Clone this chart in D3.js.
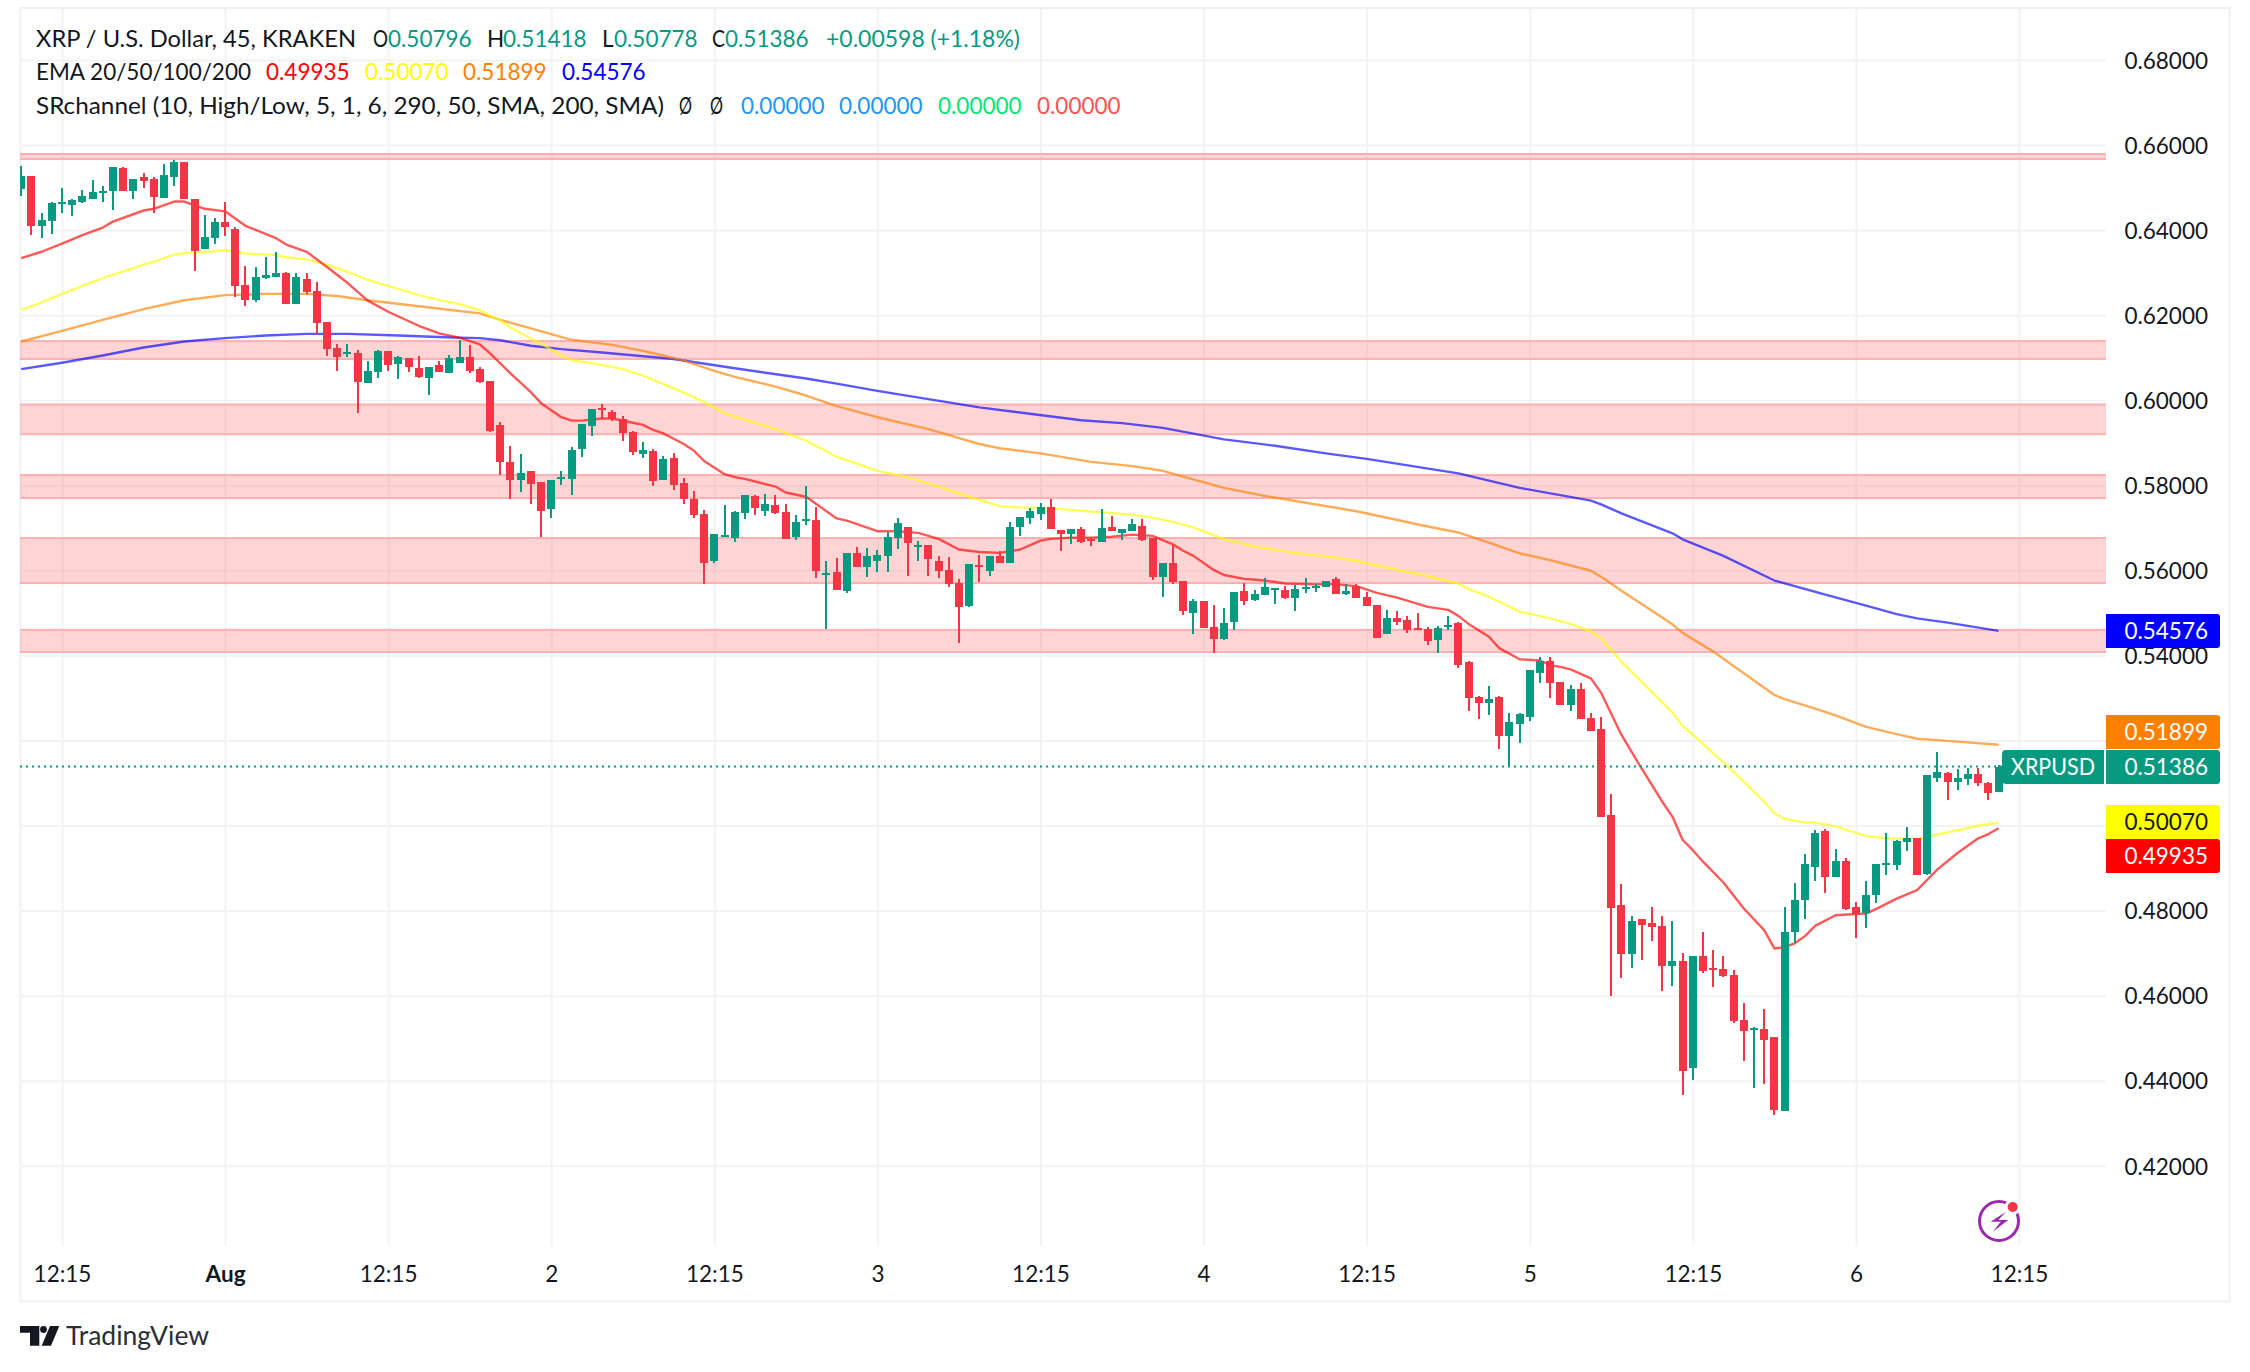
<!DOCTYPE html>
<html>
<head>
<meta charset="utf-8">
<title>XRP / U.S. Dollar</title>
<script src="https://d3js.org/d3.v7.min.js"></script>
<style>
  html, body { margin: 0; background: #fff; }
  svg { display: block; }
  text { font-family: Lato, "Noto Sans", sans-serif; font-size: 22.5px; fill: #131722; }
  .grid line { stroke: #f2f3f5; stroke-width: 2; }
  .grid .domain { display: none; }
</style>
</head>
<body>
<svg id="chart" width="2250" height="1372"></svg>
<script>
// bar 0 is the first 12:15 gridline, bars run from -4 to 190
var firstBar = -4;

var opens = [
  .6497,.6527,.6410,.6421,.6462,.6459,.6466,.6473,.6486,.6492,
  .6546,.6492,.6525,.6520,.6475,.6525,.6560,.6473,.6355,.6381,
  .6419,.6402,.6271,.6236,.6287,.6290,.6299,.6226,.6285,.6257,
  .6184,.6123,.6109,.6111,.6040,.6066,.6116,.6085,.6099,.6076,
  .6052,.6083,.6064,.6087,.6101,.6073,.6045,.5942,.5855,.5812,
  .5833,.5808,.5744,.5815,.5815,.5885,.5939,.5982,.5972,.5956,
  .5925,.5873,.5881,.5812,.5864,.5805,.5768,.5732,.5622,.5678,
  .5676,.5735,.5775,.5739,.5754,.5737,.5678,.5716,.5718,.5589,
  .5596,.5551,.5641,.5608,.5622,.5634,.5676,.5702,.5656,.5659,
  .5622,.5601,.5570,.5516,.5612,.5598,.5634,.5617,.5702,.5723,
  .5732,.5749,.5695,.5685,.5697,.5674,.5667,.5702,.5688,.5692,
  .5704,.5676,.5584,.5617,.5575,.5500,.5528,.5467,.5438,.5478,
  .5551,.5530,.5542,.5554,.5554,.5535,.5556,.5560,.5561,.5580,
  .5544,.5563,.5537,.5518,.5450,.5488,.5483,.5464,.5462,.5436,
  .5467,.5476,.5384,.5302,.5288,.5302,.5210,.5239,.5255,.5358,
  .5387,.5337,.5283,.5321,.5253,.5227,.5025,.4813,.4698,.4780,
  .4771,.4764,.4670,.4681,.4430,.4693,.4665,.4662,.4648,.4543,
  .4519,.4521,.4503,.4329,.4749,.4825,.4902,.4987,.4879,.4916,
  .4808,.4794,.4836,.4907,.4907,.4962,.4970,.4886,.5112,.5123,
  .5102,.5109,.5121,.5100,.50796
];
var highs = [
  .6551,.6527,.6439,.6466,.6499,.6473,.6494,.6518,.6504,.6548,
  .6548,.6520,.6534,.6525,.6555,.6565,.6560,.6473,.6435,.6428,
  .6466,.6407,.6315,.6313,.6337,.6348,.6301,.6299,.6299,.6278,
  .6184,.6132,.6132,.6118,.6092,.6118,.6116,.6104,.6099,.6104,
  .6078,.6092,.6106,.6142,.6130,.6078,.6045,.5949,.5892,.5873,
  .5833,.5808,.5812,.5833,.5890,.5944,.5979,.5991,.5977,.5963,
  .5928,.5902,.5885,.5869,.5876,.5817,.5786,.5742,.5685,.5754,
  .5739,.5777,.5777,.5779,.5777,.5756,.5730,.5798,.5749,.5622,
  .5629,.5641,.5655,.5652,.5648,.5690,.5723,.5702,.5669,.5659,
  .5634,.5631,.5580,.5615,.5636,.5634,.5645,.5714,.5725,.5746,
  .5758,.5768,.5695,.5697,.5702,.5678,.5744,.5728,.5697,.5721,
  .5721,.5676,.5617,.5659,.5575,.5533,.5528,.5518,.5511,.5549,
  .5570,.5554,.5582,.5558,.5563,.5565,.5582,.5568,.5575,.5584,
  .5568,.5568,.5549,.5518,.5507,.5504,.5493,.5500,.5467,.5469,
  .5493,.5478,.5387,.5304,.5328,.5304,.5264,.5264,.5366,.5396,
  .5396,.5337,.5330,.5335,.5264,.5255,.5074,.4862,.4787,.4780,
  .4808,.4787,.4775,.4700,.4693,.4749,.4707,.4693,.4660,.4582,
  .4526,.4568,.4503,.4808,.4865,.4933,.4989,.4992,.4945,.4923,
  .4820,.4869,.4909,.4982,.4966,.4996,.4970,.5119,.5173,.5126,
  .5133,.5135,.5135,.5102,.51418
];
var lows = [
  .6479,.6388,.6382,.6391,.6440,.6433,.6464,.6473,.6466,.6447,
  .6492,.6473,.6499,.6440,.6475,.6504,.6473,.6304,.6355,.6367,
  .6386,.6243,.6221,.6231,.6285,.6290,.6226,.6226,.6250,.6156,
  .6104,.6069,.6101,.5970,.6040,.6052,.6069,.6050,.6066,.6052,
  .6012,.6066,.6064,.6087,.6064,.6040,.5925,.5824,.5768,.5784,
  .5756,.5678,.5723,.5801,.5777,.5866,.5916,.5956,.5951,.5904,
  .5871,.5864,.5798,.5812,.5789,.5756,.5723,.5568,.5617,.5678,
  .5667,.5721,.5730,.5728,.5732,.5674,.5671,.5706,.5582,.5462,
  .5554,.5547,.5608,.5584,.5596,.5596,.5650,.5587,.5622,.5587,
  .5582,.5561,.5429,.5514,.5572,.5587,.5617,.5617,.5681,.5709,
  .5718,.5697,.5645,.5662,.5664,.5657,.5667,.5692,.5671,.5692,
  .5669,.5577,.5537,.5568,.5495,.5450,.5464,.5406,.5436,.5460,
  .5518,.5528,.5542,.5521,.5533,.5504,.5547,.5549,.5561,.5544,
  .5542,.5535,.5516,.5441,.5450,.5471,.5453,.5460,.5424,.5406,
  .5460,.5370,.5269,.5250,.5260,.5180,.5138,.5194,.5246,.5335,
  .5300,.5283,.5269,.5250,.5222,.5020,.4599,.4641,.4665,.4684,
  .4728,.4611,.4623,.4366,.4401,.4653,.4620,.4644,.4535,.4446,
  .4383,.4392,.4319,.4329,.4724,.4780,.4869,.4841,.4879,.4801,
  .4735,.4759,.4818,.4883,.4895,.4940,.4883,.4883,.5102,.5060,
  .5083,.5095,.5093,.5060,.50778
];
var closes = [
  .6527,.6410,.6424,.6464,.6466,.6471,.6480,.6490,.6492,.6548,
  .6492,.6520,.6516,.6478,.6529,.6560,.6473,.6351,.6384,.6419,
  .6407,.6268,.6236,.6290,.6294,.6299,.6226,.6290,.6254,.6181,
  .6120,.6101,.6113,.6043,.6069,.6116,.6083,.6101,.6078,.6054,
  .6078,.6066,.6099,.6101,.6069,.6043,.5928,.5855,.5812,.5829,
  .5803,.5739,.5812,.5819,.5883,.5944,.5979,.5977,.5956,.5923,
  .5878,.5883,.5810,.5862,.5801,.5768,.5730,.5617,.5685,.5683,
  .5737,.5777,.5746,.5756,.5735,.5674,.5714,.5721,.5598,.5594,
  .5554,.5641,.5608,.5634,.5636,.5678,.5711,.5664,.5659,.5627,
  .5598,.5568,.5514,.5615,.5608,.5634,.5617,.5702,.5725,.5739,
  .5749,.5697,.5685,.5697,.5667,.5669,.5699,.5692,.5697,.5709,
  .5671,.5584,.5617,.5572,.5504,.5528,.5464,.5438,.5476,.5549,
  .5528,.5544,.5561,.5558,.5535,.5556,.5561,.5563,.5575,.5544,
  .5551,.5535,.5516,.5441,.5488,.5478,.5460,.5460,.5434,.5464,
  .5471,.5377,.5300,.5288,.5297,.5210,.5243,.5262,.5366,.5387,
  .5335,.5283,.5321,.5250,.5222,.5020,.4806,.4698,.4775,.4766,
  .4761,.4670,.4681,.4423,.4693,.4658,.4660,.4646,.4540,.4517,
  .4524,.4496,.4331,.4749,.4825,.4909,.4982,.4879,.4916,.4804,
  .4792,.4836,.4909,.4912,.4963,.4970,.4883,.5119,.5126,.5102,
  .5112,.5121,.5100,.5076,.51386
];

// EMAs, read at the bars where the drawn line bends
var ema20Bars = [-4,-2,0,2,4,5,8,9,11,12,14,16,18,21,22,24,26,28,30,32,35,37,39,41,42,44,46,47,49,50,51,53,54,56,57,58,59,61,62,63,65,66,67,70,71,73,76,77,80,82,84,86,88,90,92,93,94,96,97,99,101,103,105,107,108,109,110,111,113,114,116,118,120,123,125,127,129,131,134,136,137,138,140,141,143,145,146,147,148,150,151,153,155,157,158,159,160,161,163,165,167,168,169,170,171,172,174,176,177,178,180,182,184,186,188,189,190];
var ema20 = [.6334,.6349,.6368,.6388,.6406,.6420,.6446,.6450,.6467,.6467,.6450,.6444,.6410,.6381,.6366,.6349,.6313,.6276,.6234,.6208,.6175,.6157,.6147,.6131,.6110,.6063,.6019,.5993,.5960,.5952,.5952,.5957,.5957,.5947,.5942,.5930,.5922,.5897,.5881,.5857,.5826,.5819,.5815,.5797,.5783,.5773,.5722,.5717,.5692,.5692,.5688,.5674,.5649,.5643,.5641,.5645,.5649,.5670,.5674,.5677,.5677,.5679,.5684,.5681,.5671,.5661,.5646,.5634,.5601,.5589,.5580,.5576,.5569,.5567,.5567,.5563,.5547,.5536,.5514,.5507,.5493,.5474,.5444,.5417,.5391,.5388,.5377,.5373,.5367,.5346,.5312,.5213,.5133,.5056,.5021,.4966,.4942,.4915,.4866,.4805,.4754,.4711,.4714,.4723,.4740,.4764,.4789,.4792,.4793,.4804,.4828,.4848,.4897,.4936,.4970,.4980,.49935];

var ema50Bars = [-4,-2,0,2,4,8,9,11,12,14,16,18,21,22,24,26,28,30,32,35,37,39,41,42,43,44,46,47,49,50,53,55,57,59,61,63,65,67,70,73,76,78,80,83,86,89,92,94,97,101,105,107,109,111,113,114,117,121,125,127,130,133,137,138,140,143,146,148,150,151,153,158,159,160,164,167,168,169,171,172,174,177,179,182,183,186,188,189,190];
var ema50 = [.6212,.6230,.6250,.6269,.6287,.6319,.6326,.6342,.6346,.6348,.6353,.6345,.6341,.6336,.6331,.6318,.6302,.6283,.6269,.6247,.6236,.6226,.6212,.6199,.6188,.6171,.6145,.6133,.6105,.6094,.6083,.6073,.6058,.6038,.6018,.5996,.5969,.5954,.5932,.5905,.5867,.5851,.5834,.5819,.5797,.5773,.5751,.5748,.5746,.5738,.5731,.5724,.5714,.5701,.5683,.5673,.5656,.5641,.5630,.5622,.5606,.5592,.5569,.5556,.5538,.5503,.5487,.5474,.5457,.5440,.5385,.5266,.5234,.5214,.5126,.5056,.5029,.5016,.5007,.5007,.4998,.4975,.4970,.4968,.4974,.4989,.5000,.5003,.50070];

var ema100Bars = [-4,0,4,8,12,16,20,24,27,30,35,41,43,46,50,54,57,59,61,64,66,70,73,76,80,85,90,92,96,101,105,108,111,114,118,121,127,134,137,140,143,146,150,151,153,158,159,162,168,169,172,174,177,180,182,185,190];
var ema100 = [.6138,.6163,.6189,.6214,.6235,.6247,.6250,.6250,.6245,.6235,.6221,.6204,.6189,.6169,.6142,.6130,.6116,.6105,.6093,.6069,.6055,.6032,.6011,.5986,.5960,.5932,.5897,.5887,.5875,.5855,.5845,.5834,.5814,.5794,.5775,.5763,.5739,.5703,.5689,.5665,.5640,.5624,.5599,.5585,.5552,.5473,.5453,.5409,.5307,.5297,.5275,.5259,.5232,.5215,.5204,.5199,.51899];

var ema200Bars = [-4,0,4,8,12,16,20,24,28,33,39,41,43,46,49,53,60,66,73,76,80,90,100,104,108,114,119,124,128,137,140,143,150,151,153,158,159,163,168,173,177,180,182,185,190];
var ema200 = [.6073,.6088,.6105,.6124,.6138,.6146,.6152,.6156,.6156,.6152,.6147,.6146,.6141,.6128,.6120,.6112,.6097,.6075,.6051,.6039,.6022,.5983,.5953,.5946,.5935,.5908,.5893,.5875,.5862,.5828,.5811,.5794,.5764,.5755,.5734,.5687,.5673,.5634,.5576,.5543,.5517,.5497,.5487,.5477,.54576];

// SRchannel zones, top and bottom price
var zoneTops = [.6579,.6139,.5990,.5824,.5676,.5460];
var zoneBottoms = [.6567,.6097,.5920,.5770,.5570,.5408];

var gridPrices = [.42,.44,.46,.48,.50,.52,.54,.56,.58,.60,.62,.64,.66,.68];
var priceLabels = [.42,.44,.46,.48,.54,.56,.58,.60,.62,.64,.66,.68];
var timeBars = [0,16,32,48,64,80,96,112,128,144,160,176,192];
var timeLabels = ["12:15","Aug","12:15","2","12:15","3","12:15","4","12:15","5","12:15","6","12:15"];

var lastClose = 0.51386;
var priceTags = [
  {text: "0.54576", center: 631, fill: "#0000ff", color: "#fff"},
  {text: "0.51899", center: 732, fill: "#ff8000", color: "#fff"},
  {text: "0.51386", center: 767, fill: "#089981", color: "#fff"},
  {text: "0.50070", center: 822, fill: "#ffff00", color: "#131722"},
  {text: "0.49935", center: 856, fill: "#ff0000", color: "#fff"}
];

var UP = "#089981", DOWN = "#f23645";
var left = 20, right = 2106, bottom = 1246;
var textDrop = 2.5; // Lato sits a little high on a middle baseline

var svg = d3.select("#chart");

var x = d3.scaleLinear().domain([0, 192]).range([62, 2019]);
var y = d3.scaleLinear().domain([0.66, 0.42]).range([145, 1165.8]);

svg.append("defs").append("clipPath").attr("id", "plot")
  .append("rect").attr("x", left).attr("y", 8).attr("width", right - left).attr("height", bottom - 8);

// frame
svg.append("rect").attr("x", 20.5).attr("y", 8).attr("width", 2209).attr("height", 1293.5)
  .attr("fill", "none").attr("stroke", "#f0f0f6").attr("stroke-width", 2);

// grid
svg.append("g").attr("class", "grid").attr("transform", "translate(" + right + ",0)")
  .call(d3.axisLeft(y).tickValues(gridPrices).tickSize(right - left).tickFormat(""));

var xAxis = svg.append("g").attr("class", "grid").attr("transform", "translate(0," + bottom + ")")
  .call(d3.axisBottom(x).tickValues(timeBars).tickSize(-(bottom - 9))
    .tickFormat(function(d, i) { return timeLabels[i]; }));
xAxis.selectAll("text").attr("y", 28 + textDrop).attr("dy", null).attr("dominant-baseline", "middle")
  .style("font-family", "Lato, 'Noto Sans', sans-serif").style("font-size", "22.5px")
  .attr("fill", "#131722")
  .style("font-weight", function(d, i) { return timeLabels[i] == "Aug" ? "700" : "400"; });

var plot = svg.append("g").attr("clip-path", "url(#plot)");

// zones
var zones = plot.selectAll("g.zone").data(zoneTops).enter().append("g").attr("class", "zone");
zones.append("rect").attr("x", left).attr("width", right - left)
  .attr("y", function(d) { return y(d); })
  .attr("height", function(d, i) { return y(zoneBottoms[i]) - y(d); })
  .attr("fill", "#ff5252").attr("fill-opacity", 0.25);
zones.append("rect").attr("x", left).attr("width", right - left).attr("height", 2)
  .attr("y", function(d) { return y(d) - 1; }).attr("fill", "#ffb0b0");
zones.append("rect").attr("x", left).attr("width", right - left).attr("height", 2)
  .attr("y", function(d, i) { return y(zoneBottoms[i]) - 1; }).attr("fill", "#ffb0b0");

// EMAs
function drawEma(bars, values, color) {
  var line = d3.line()
    .x(function(d) { return x(d); })
    .y(function(d, i) { return y(values[i]); });
  plot.append("path").datum(bars).attr("d", line)
    .attr("fill", "none").attr("stroke", color).attr("stroke-opacity", 0.65)
    .attr("stroke-width", 2.4).attr("stroke-linejoin", "round");
}
drawEma(ema200Bars, ema200, "#0000ff");
drawEma(ema100Bars, ema100, "#ff8000");
drawEma(ema50Bars, ema50, "#ffff00");
drawEma(ema20Bars, ema20, "#ff0000");

// last price line
plot.append("line").attr("x1", left).attr("x2", 2002)
  .attr("y1", y(lastClose)).attr("y2", y(lastClose))
  .attr("stroke", UP).attr("stroke-width", 2).attr("stroke-dasharray", "2 4");

// candles
var candles = plot.selectAll("g.candle").data(opens).enter().append("g")
  .attr("class", "candle")
  .attr("fill", function(d, i) { return closes[i] >= d ? UP : DOWN; })
  .attr("shape-rendering", "crispEdges");
candles.append("rect")
  .attr("x", function(d, i) { return Math.round(x(i + firstBar)) - 1; })
  .attr("width", 2)
  .attr("y", function(d, i) { return y(highs[i]); })
  .attr("height", function(d, i) { return y(lows[i]) - y(highs[i]); });
candles.append("rect")
  .attr("x", function(d, i) { return Math.round(x(i + firstBar)) - 4; })
  .attr("width", 8)
  .attr("y", function(d, i) { return y(Math.max(d, closes[i])); })
  .attr("height", function(d, i) { return Math.max(2, Math.abs(y(d) - y(closes[i]))); });

// price axis
var yAxis = svg.append("g").attr("transform", "translate(2208,0)")
  .call(d3.axisRight(y).tickValues(priceLabels).tickSize(0).tickPadding(0).tickFormat(d3.format(".5f")));
yAxis.select(".domain").remove();
yAxis.selectAll("text").attr("text-anchor", "end").attr("x", 0).attr("y", textDrop).attr("dy", null)
  .attr("dominant-baseline", "middle").style("font-family", "Lato, 'Noto Sans', sans-serif")
  .style("font-size", "22.5px").attr("fill", "#131722");

// price tags
function tagPath(x0, x1, y0, y1, rl, rr) {
  return "M" + (x0 + rl) + "," + y0 + "H" + (x1 - rr) + "Q" + x1 + "," + y0 + " " + x1 + "," + (y0 + rr) +
    "V" + (y1 - rr) + "Q" + x1 + "," + y1 + " " + (x1 - rr) + "," + y1 + "H" + (x0 + rl) +
    "Q" + x0 + "," + y1 + " " + x0 + "," + (y1 - rl) + "V" + (y0 + rl) + "Q" + x0 + "," + y0 + " " + (x0 + rl) + "," + y0 + "Z";
}
var tags = svg.selectAll("g.tag").data(priceTags).enter().append("g").attr("class", "tag");
tags.append("path").attr("fill", function(d) { return d.fill; })
  .attr("d", function(d) { return tagPath(2106, 2220, d.center - 17, d.center + 17, 0, 3); });
tags.append("text").attr("x", 2208).attr("y", function(d) { return d.center + textDrop; })
  .attr("text-anchor", "end").attr("dominant-baseline", "middle")
  .style("fill", function(d) { return d.color; }).text(function(d) { return d.text; });

svg.append("path").attr("fill", UP).attr("d", tagPath(2002, 2104, 750, 784, 4, 0));
svg.append("text").attr("x", 2053).attr("y", 767 + textDrop).attr("text-anchor", "middle")
  .attr("dominant-baseline", "middle").attr("textLength", 84).attr("lengthAdjust", "spacingAndGlyphs")
  .style("fill", "#fff").text("XRPUSD");

// legend, w forces the width of the words that Lato sets too narrow or too wide
var legendRows = [
  [{x: 36, t: "XRP / U.S. Dollar, 45, KRAKEN", c: "#131722", w: 320},
   {x: 373, t: "O", c: "#131722", w: 15}, {x: 388, t: "0.50796", c: UP},
   {x: 487, t: "H", c: "#131722"}, {x: 503, t: "0.51418", c: UP},
   {x: 602, t: "L", c: "#131722"}, {x: 614, t: "0.50778", c: UP},
   {x: 712, t: "C", c: "#131722", w: 13}, {x: 725, t: "0.51386", c: UP},
   {x: 826, t: "+0.00598 (+1.18%)", c: UP, w: 194}],
  [{x: 36, t: "EMA 20/50/100/200", c: "#131722", w: 215},
   {x: 266, t: "0.49935", c: "#ff0000"}, {x: 365, t: "0.50070", c: "#ffff00"},
   {x: 463, t: "0.51899", c: "#ff8000"}, {x: 562, t: "0.54576", c: "#0000ff"}],
  [{x: 36, t: "SRchannel (10, High/Low, 5, 1, 6, 290, 50, SMA, 200, SMA)", c: "#131722", w: 628},
   {x: 679, t: "\u00d8", c: "#131722", w: 13}, {x: 710, t: "\u00d8", c: "#131722", w: 13},
   {x: 741, t: "0.00000", c: "#2196f3"}, {x: 839, t: "0.00000", c: "#2196f3"},
   {x: 938, t: "0.00000", c: "#00e676"}, {x: 1037, t: "0.00000", c: "#ff5252"}]
];
var legendY = [41.5, 74.5, 108.5];
legendRows.forEach(function(row, r) {
  svg.selectAll(null).data(row).enter().append("text")
    .attr("x", function(d) { return d.x; }).attr("y", legendY[r])
    .attr("dominant-baseline", "middle")
    .attr("textLength", function(d) { return d.w || null; })
    .attr("lengthAdjust", function(d) { return d.w ? "spacingAndGlyphs" : null; })
    .style("fill", function(d) { return d.c; })
    .text(function(d) { return d.t; });
});

// bolt icon
var bolt = svg.append("g");
bolt.append("circle").attr("cx", 1999).attr("cy", 1221).attr("r", 19.5)
  .attr("fill", "#fff").attr("stroke", "#9c27b0").attr("stroke-width", 3);
bolt.append("path").attr("fill", "#9c27b0")
  .attr("d", "M2006,1211.7L1990.7,1221.7H2000.7L1992.7,1231.7L2008.3,1220H1998.3Z");
bolt.append("circle").attr("cx", 2012.7).attr("cy", 1207).attr("r", 8).attr("fill", "#fff");
bolt.append("circle").attr("cx", 2012.7).attr("cy", 1207).attr("r", 5).attr("fill", "#f23645");

// logo
var logo = svg.append("g").attr("fill", "#131722");
logo.append("path").attr("d", "M20,1326H39.3V1345.7H30V1332.7H20Z");
logo.append("circle").attr("cx", 43.5).attr("cy", 1329.5).attr("r", 3.4);
logo.append("path").attr("d", "M59.3,1326H50L41.7,1345.7H51Z");
svg.append("text").attr("x", 66).attr("y", 1345).style("font-size", "26.5px")
  .style("fill", "#2a2e39").text("TradingView");
</script>
</body>
</html>
